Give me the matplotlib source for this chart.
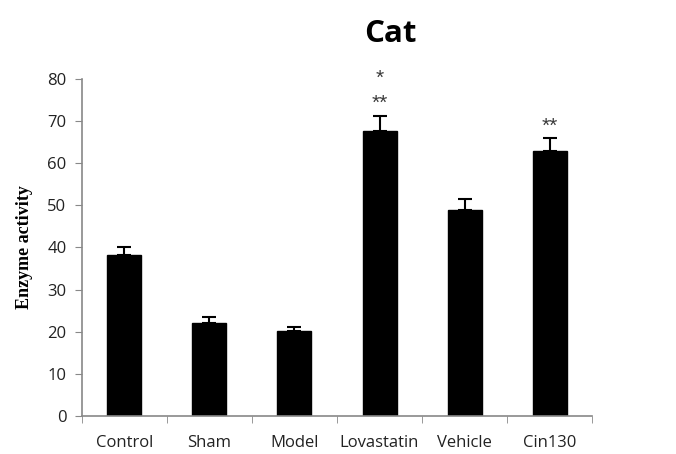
import numpy as np
import matplotlib.pyplot as plt
from matplotlib.ticker import FixedLocator

# grupos e valores médios com erro padrão
grupos = ['Control', 'Sham', 'Model', 'Lovastatin', 'Vehicle', 'Cin130']
atividade = [38.2, 22.1, 20.2, 67.7, 48.9, 62.9]
erro = [1.9, 1.4, 0.9, 3.6, 2.6, 3.1]
# marcas de significância acima das barras (linha de baixo, linha de cima)
sig_baixo = ['', '', '', '**', '', '**']
sig_cima = ['', '', '', '*', '', '']

fig = plt.figure(figsize=(6.76, 4.54), dpi=100)
ax = fig.add_axes([0.121, 0.0837, 0.755, 0.7423])

x = np.arange(len(grupos))
ax.bar(x, atividade, width=0.4, color='black', edgecolor='black', zorder=2)
ax.errorbar(x, atividade, yerr=[np.zeros(len(erro)), erro], fmt='none',
            ecolor='black', elinewidth=1.5, capsize=5, capthick=1.5, zorder=3)

for xi, v, e, s1, s2 in zip(x, atividade, erro, sig_baixo, sig_cima):
    if s1:
        ax.text(xi, v + e + 0.6, s1, ha='center', va='bottom', fontsize=15,
                color='#3a3a3a', family='Liberation Sans')
    if s2:
        ax.text(xi, v + e + 6.6, s2, ha='center', va='bottom', fontsize=15,
                color='#3a3a3a', family='Liberation Sans')

ax.set_xlim(-0.5, len(grupos) - 0.5)
ax.set_ylim(0, 80)
ax.set_yticks(range(0, 81, 10))
ax.set_xticks(x)
ax.set_xticklabels(grupos)
ax.xaxis.set_minor_locator(FixedLocator(np.arange(-0.5, len(grupos), 1)))
ax.tick_params(axis='x', which='major', length=0, pad=14, labelsize=12,
               labelcolor='#222222')
ax.tick_params(axis='x', which='minor', length=5, color='#888888', direction='out')
ax.tick_params(axis='y', length=5, color='#888888', labelsize=12,
               labelcolor='#222222', pad=6)

for lado in ['top', 'right']:
    ax.spines[lado].set_visible(False)
for lado in ['left', 'bottom']:
    ax.spines[lado].set_color('#888888')
    ax.spines[lado].set_linewidth(1.2)

ax.set_ylabel('Enzyme activity', fontsize=13, fontweight='bold',
              family='Liberation Serif', labelpad=10)
fig.text(0.577, 0.925, 'Cat', ha='center', va='center', fontsize=22.5,
         fontweight='bold', family='Open Sans')

for lbl in ax.get_xticklabels() + ax.get_yticklabels():
    lbl.set_family('Open Sans')

plt.savefig('out.png', dpi=100)
